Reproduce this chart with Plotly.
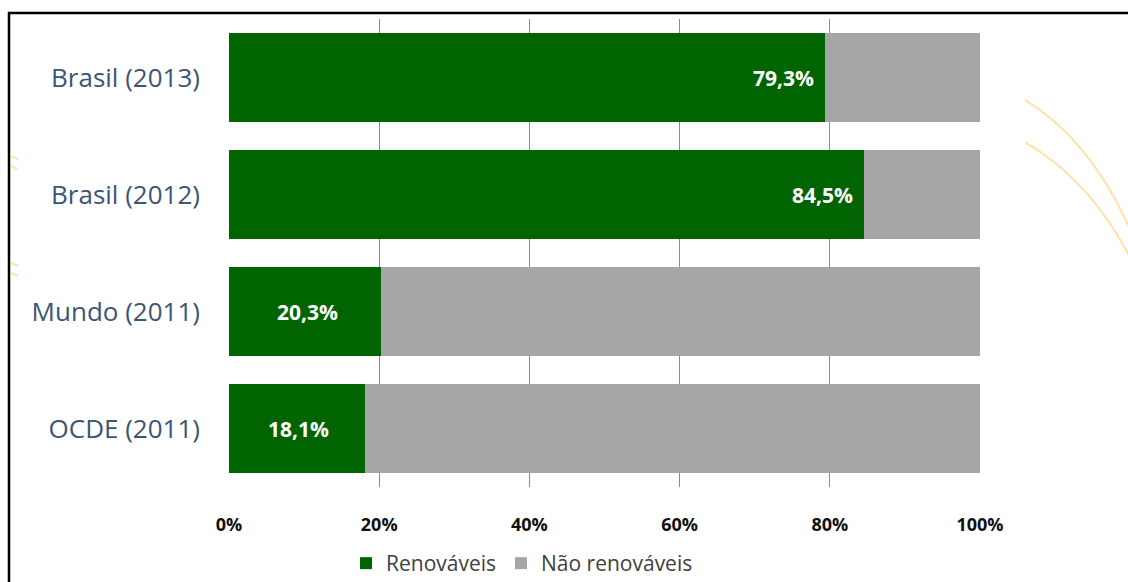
import plotly.graph_objects as go

categories = ["Brasil (2013)", "Brasil (2012)", "Mundo (2011)", "OCDE (2011)"]
renovaveis = [79.3, 84.5, 20.3, 18.1]
nao_renovaveis = [round(100 - v, 1) for v in renovaveis]
tick_vals = [0, 20, 40, 60, 80, 100]
tick_text = ["0%", "20%", "40%", "60%", "80%", "100%"]

GREEN = "#006400"
GRAY = "#a6a6a6"
ARC = "#fde3a7"

fig = go.Figure()
fig.add_trace(go.Bar(
    y=categories, x=renovaveis, orientation="h", name="Renováveis",
    marker=dict(color=GREEN, line=dict(width=0)), width=0.76,
    hoverinfo="x+y",
))
fig.add_trace(go.Bar(
    y=categories, x=nao_renovaveis, orientation="h", name="Não renováveis",
    marker=dict(color=GRAY, line=dict(width=0)), width=0.76,
    hoverinfo="x+y",
))

# data labels: inside end for long bars, centred for short ones
label_font = dict(family="Open Sans", size=21, color="white", weight="bold")
annotations = []
for cat, v in zip(categories, renovaveis):
    lab = f"{v:.1f}%".replace(".", ",")
    if v > 50:
        annotations.append(dict(x=v, y=cat, xref="x", yref="y", text=lab,
                                showarrow=False, xanchor="right", xshift=-9,
                                font=label_font))
    else:
        annotations.append(dict(x=v / 2, y=cat, xref="x", yref="y", text=lab,
                                showarrow=False, xanchor="center", xshift=2,
                                font=label_font))

shapes = [
    # outer frame
    dict(type="rect", xref="paper", yref="paper",
         x0=-220 / 751, x1=1.5, y0=-0.5, y1=1 + 6 / 468,
         line=dict(color="black", width=2.5), fillcolor="rgba(0,0,0,0)", layer="below"),
    # decorative arcs right
    dict(type="path", xref="paper", yref="paper",
         path="M 1.0600 0.8270 Q 1.1465 0.7420 1.2000 0.5500",
         line=dict(color=ARC, width=2)),
    dict(type="path", xref="paper", yref="paper",
         path="M 1.0600 0.7370 Q 1.1465 0.6560 1.2000 0.4900",
         line=dict(color=ARC, width=2)),
    # small stubs left
    dict(type="path", xref="paper", yref="paper",
         path="M -0.2903 0.7071 L -0.2810 0.7007",
         line=dict(color=ARC, width=2)),
    dict(type="path", xref="paper", yref="paper",
         path="M -0.2903 0.6857 L -0.2810 0.6793",
         line=dict(color=ARC, width=2)),
    dict(type="path", xref="paper", yref="paper",
         path="M -0.2903 0.4786 L -0.2810 0.4722",
         line=dict(color=ARC, width=2)),
    dict(type="path", xref="paper", yref="paper",
         path="M -0.2903 0.4572 L -0.2810 0.4508",
         line=dict(color=ARC, width=2)),
]

fig.update_layout(
    width=1128, height=582,
    margin=dict(l=229, r=148, t=19, b=95, autoexpand=False),
    barmode="stack",
    bargap=0.24,
    plot_bgcolor="white", paper_bgcolor="white",
    showlegend=True,
    legend=dict(orientation="h", x=(522 - 229) / 751, xanchor="center",
                y=1 - 543 / 582, yanchor="top", yref="container",
                font=dict(family="Open Sans", size=21, color="#404040"),
                traceorder="normal", itemwidth=30),
    xaxis=dict(range=[0, 100], tickvals=tick_vals, ticktext=tick_text,
               showgrid=True, gridcolor="#8c8c8c", gridwidth=1,
               zeroline=False, showline=False, automargin=False,
               ticks="", ticklabelstandoff=25,
               tickfont=dict(family="Open Sans", size=18, color="#111111", weight="bold"),
               fixedrange=True),
    yaxis=dict(autorange="reversed", showgrid=False, zeroline=False, showline=False,
               ticks="", ticklabelstandoff=28, automargin=False,
               tickfont=dict(family="Open Sans", size=26, color="#3d5575"),
               fixedrange=True),
    annotations=annotations,
    shapes=shapes,
)

fig.write_html("out.html")
